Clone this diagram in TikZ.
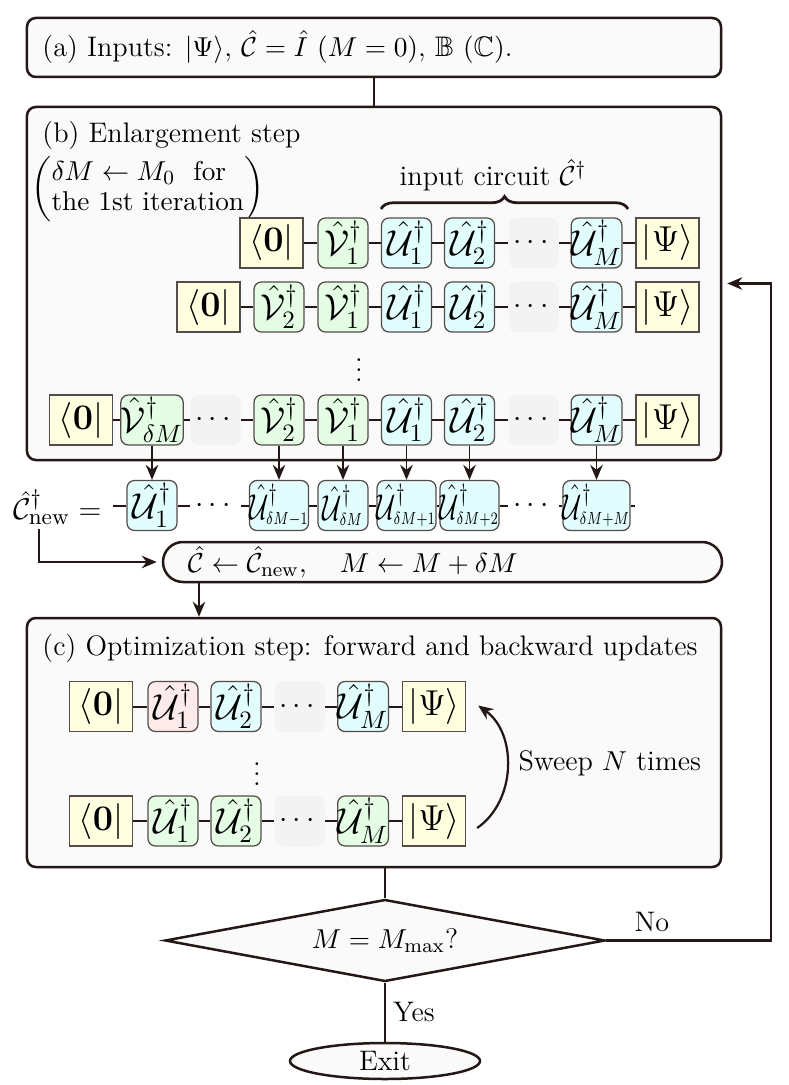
\documentclass[tikz,border=0pt]{standalone}
\usepackage{amsmath,amssymb,graphicx}
\usetikzlibrary{shapes.geometric,arrows.meta,decorations.pathreplacing,calc}
\definecolor{ink}{RGB}{35,24,21}
\definecolor{boxfill}{RGB}{250,250,250}
\definecolor{ketfill}{RGB}{255,255,224}
\definecolor{cyanfill}{RGB}{226,253,253}
\definecolor{greenfill}{RGB}{228,253,228}
\definecolor{pinkfill}{RGB}{253,234,234}
\definecolor{gateline}{RGB}{85,75,72}
\definecolor{dotsfill}{RGB}{243,243,243}
\pgfdeclarelayer{bg}
\pgfdeclarelayer{wires}
\pgfsetlayers{bg,wires,main}
\tikzset{
  bigbox/.style={draw=ink, line width=1pt, fill=boxfill, rounded corners=3.5pt, minimum width=277.6pt, inner sep=0pt},
  gate/.style={draw=gateline, line width=0.5pt, rounded corners=3pt, minimum width=20pt, minimum height=20pt, inner sep=0pt, font=\fontsize{14}{16}\selectfont},
  ugate/.style={gate, fill=cyanfill},
  vgate/.style={gate, fill=greenfill},
  pgate/.style={gate, fill=pinkfill},
  ket/.style={draw=gateline, line width=0.5pt, fill=ketfill, minimum width=25.2pt, minimum height=20pt, inner sep=0pt, font=\fontsize{13.5}{16}\selectfont},
  dotsbox/.style={fill=dotsfill, rounded corners=3pt, minimum width=20pt, minimum height=20pt, inner sep=0pt, font=\fontsize{13}{16}\selectfont},
  dotsplain/.style={fill=white, minimum width=20pt, minimum height=20pt, inner sep=0pt, font=\fontsize{13}{16}\selectfont},
  wire/.style={draw=ink, line width=0.8pt},
  arr/.style={draw=ink, line width=0.75pt, -{Stealth[length=6pt,width=5pt]}},
  flow/.style={draw=ink, line width=0.8pt},
  lbl/.style={inner sep=0pt, text=black},
}
\newcommand{\Ug}[1]{$\hat{\mathcal{U}}^{\dagger}_{#1}$}
\newcommand{\Vg}[1]{$\hat{\mathcal{V}}^{\dagger}_{#1}$}
\newcommand{\Us}[1]{\scalebox{0.74}[1]{$\hat{\mathcal{U}}^{\dagger}_{\scriptscriptstyle #1}$}}
\begin{document}
\begin{tikzpicture}[x=0.4pt,y=-0.4pt]
\useasboundingbox (0,0) rectangle (788,1085);
\fontsize{11.3}{13.6}\selectfont
% big boxes
\begin{pgfonlayer}{bg}
\node[bigbox, minimum height=23.6pt] (boxa) at (374,47.5) {};
\node[bigbox, minimum height=141.2pt] (boxb) at (374,283.5) {};
\node[bigbox, minimum height=99.6pt] (boxc) at (374,742.5) {};
\end{pgfonlayer}
\node[lbl, anchor=west] (ta) at (42,47) {(a) Inputs: $|\Psi\rangle$, $\hat{\mathcal{C}}=\hat{I}$ $(M=0)$, $\mathbb{B}$ $(\mathbb{C})$.};
\node[lbl, anchor=west] (tb) at (42,135) {(b) Enlargement step};
\node[lbl, anchor=west] (tc) at (42,648) {(c) Optimization step: forward and backward updates};
\node[lbl, anchor=west, font=\fontsize{10.9}{13}\selectfont] (note) at (31,189) {$\left(\begin{tabular}{@{}l@{}}$\delta M\leftarrow M_0$\ \ for\\[-1pt]the 1st iteration\end{tabular}\right)$};
\node[lbl] (inc) at (493,175) {input circuit $\hat{\mathcal{C}}^{\dagger}$};
\draw[ink, line width=1.1pt, decorate, decoration={brace, amplitude=5pt}] (381,209) -- (628,209);

% row 1
\node[ket] (r1b) at (271.5,243) {$\langle\mathbf{0}|$};
\node[vgate] (r1v1) at (343,243) {\Vg{1}};
\node[ugate] (r1u1) at (406.5,243) {\Ug{1}};
\node[ugate] (r1u2) at (469.5,243) {\Ug{2}};
\node[dotsbox] (r1d) at (533.5,243) {$\cdots$};
\node[ugate] (r1um) at (596.5,243) {\Ug{M}};
\node[ket] (r1p) at (667.5,243) {$|\Psi\rangle$};
% row 2
\node[ket] (r2b) at (208.5,307) {$\langle\mathbf{0}|$};
\node[vgate] (r2v2) at (279,307) {\Vg{2}};
\node[vgate] (r2v1) at (343,307) {\Vg{1}};
\node[ugate] (r2u1) at (406.5,307) {\Ug{1}};
\node[ugate] (r2u2) at (469.5,307) {\Ug{2}};
\node[dotsbox] (r2d) at (533.5,307) {$\cdots$};
\node[ugate] (r2um) at (596.5,307) {\Ug{M}};
\node[ket] (r2p) at (667.5,307) {$|\Psi\rangle$};
\node[lbl] (vd1) at (359,363) {$\vdots$};
% row 3
\node[ket] (r3b) at (81,420) {$\langle\mathbf{0}|$};
\node[vgate] (r3vd) at (152,420) {\Vg{\delta M}};
\node[dotsbox] (r3d1) at (215.5,420) {$\cdots$};
\node[vgate] (r3v2) at (279,420) {\Vg{2}};
\node[vgate] (r3v1) at (343,420) {\Vg{1}};
\node[ugate] (r3u1) at (406.5,420) {\Ug{1}};
\node[ugate] (r3u2) at (469.5,420) {\Ug{2}};
\node[dotsbox] (r3d2) at (533.5,420) {$\cdots$};
\node[ugate] (r3um) at (596.5,420) {\Ug{M}};
\node[ket] (r3p) at (667.5,420) {$|\Psi\rangle$};

% new circuit
\node[lbl, anchor=east, font=\fontsize{12.5}{14}\selectfont] (cnew) at (102,507) {$\hat{\mathcal{C}}^{\dagger}_{\mathrm{new}}=$};
\coordinate (nw0) at (113,505.5);
\coordinate (nw1) at (635,505.5);
\node[ugate] (n1) at (152,505.5) {\Ug{1}};
\node[dotsplain] (nd1) at (215.5,505.5) {$\cdots$};
\node[ugate] (n2) at (279,505.5) {\Us{\delta M-1}};
\node[ugate] (n3) at (343,505.5) {\Us{\delta M}};
\node[ugate] (n4) at (406.5,505.5) {\Us{\delta M+1}};
\node[ugate] (n5) at (469.5,505.5) {\Us{\delta M+2}};
\node[dotsplain] (nd2) at (533.5,505.5) {$\cdots$};
\node[ugate] (n6) at (596.5,505.5) {\Us{\delta M+M}};

% update box
\node[draw=ink, line width=1pt, fill=boxfill, rounded corners=8pt, minimum height=16pt, text width=203.6pt, inner xsep=10pt, inner ysep=0pt, align=left, font=\fontsize{11.4}{14}\selectfont] (upd) at (442.5,562) {$\hat{\mathcal{C}}\leftarrow\hat{\mathcal{C}}_{\mathrm{new}},\quad M\leftarrow M+\delta M$};
\coordinate (cs) at (39,529);
\coordinate (us) at (199,582);

% box c rows
\node[ket] (c1b) at (101,706.5) {$\langle\mathbf{0}|$};
\node[pgate] (c1u1) at (173,706.5) {\Ug{1}};
\node[ugate] (c1u2) at (236,706.5) {\Ug{2}};
\node[dotsbox] (c1d) at (299.5,706.5) {$\cdots$};
\node[ugate] (c1um) at (363,706.5) {\Ug{M}};
\node[ket] (c1p) at (434,706.5) {$|\Psi\rangle$};
\node[lbl] (vd2) at (257,767) {$\vdots$};
\node[ket] (c2b) at (101,821) {$\langle\mathbf{0}|$};
\node[vgate] (c2u1) at (173,821) {\Ug{1}};
\node[vgate] (c2u2) at (236,821) {\Ug{2}};
\node[dotsbox] (c2d) at (299.5,821) {$\cdots$};
\node[vgate] (c2um) at (363,821) {\Ug{M}};
\node[ket] (c2p) at (434,821) {$|\Psi\rangle$};
\node[lbl, anchor=west] (sweep) at (518,763) {Sweep $N$ times};

% decision
\node[diamond, draw=ink, line width=1pt, fill=boxfill, minimum width=176pt, minimum height=32.8pt, inner sep=0pt, aspect=5.4] (dia) at (385,940.5) {$M=M_{\max}$?};
\node[ellipse, draw=ink, line width=1pt, fill=boxfill, minimum width=76pt, minimum height=14.4pt, inner sep=0pt] (exit) at (385,1061) {Exit};
\node[lbl] (no) at (652,922) {No};
\node[lbl] (yes) at (414,1012) {Yes};
\coordinate (loop) at (771,940.5);

% wires
\begin{pgfonlayer}{wires}
\draw[wire] (r1b) -- (r1v1) -- (r1u1) -- (r1u2) -- (r1d) -- (r1um) -- (r1p);
\draw[wire] (r2b) -- (r2v2) -- (r2v1) -- (r2u1) -- (r2u2) -- (r2d) -- (r2um) -- (r2p);
\draw[wire] (r3b) -- (r3vd) -- (r3d1) -- (r3v2) -- (r3v1) -- (r3u1) -- (r3u2) -- (r3d2) -- (r3um) -- (r3p);
\draw[wire] (nw0) -- (n1) -- (nd1) -- (n2) -- (n3) -- (n4) -- (n5) -- (nd2) -- (n6) -- (nw1);
\draw[wire] (c1b) -- (c1u1) -- (c1u2) -- (c1d) -- (c1um) -- (c1p);
\draw[wire] (c2b) -- (c2u1) -- (c2u2) -- (c2d) -- (c2um) -- (c2p);
\end{pgfonlayer}

% connectors
\draw[flow] (boxa) -- (boxb);
\draw[arr] (r3vd) -- (n1);
\draw[arr] (r3v2) -- (n2);
\draw[arr] (r3v1) -- (n3);
\draw[arr] (r3u1) -- (n4);
\draw[arr] (r3u2) -- (n5);
\draw[arr] (r3um) -- (n6);
\draw[arr, shorten >=2pt] (cs) |- (upd.west);
\draw[arr] (us) -- (us |- boxc.north);
\draw[arr, line width=0.9pt] ($(c2p.east)+(11,7)$) to[bend right=55] ($(c1p.east)+(12,-1)$);
\draw[flow] (boxc.south -| dia.north) -- (dia.north);
\draw[flow] (dia.south) -- (exit.north);
\draw[arr, line width=0.9pt, shorten >=2pt] (dia.east) -- (loop) |- (boxb.east);
\end{tikzpicture}
\end{document}
